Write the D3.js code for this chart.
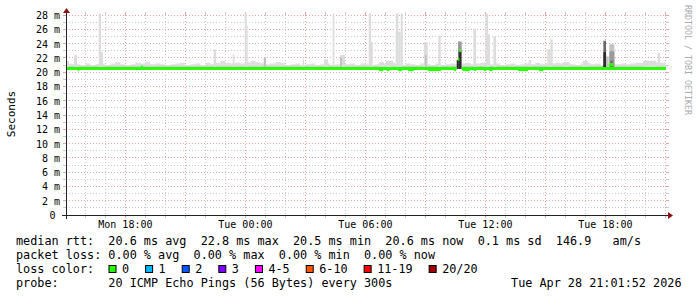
<!DOCTYPE html>
<html><head><meta charset="utf-8">
<script src="https://cdn.jsdelivr.net/npm/d3@7"></script>
<style>
body{margin:0;background:#fff;}
svg{display:block;}
text{font-family:"DejaVu Sans Mono",monospace;white-space:pre;}
</style></head><body>
<svg id="c" width="697" height="297"></svg>
<script>
// ---------------- data ----------------
const timeStart = "2026-04-27 15:01:52";
const timeEnd   = "2026-04-28 21:01:52";
const yMax = 28;
const yTickValues = [0,2,4,6,8,10,12,14,16,18,20,22,24,26,28];
const xLabelTimes = ["2026-04-27 18:00:00","2026-04-28 00:00:00","2026-04-28 06:00:00","2026-04-28 12:00:00","2026-04-28 18:00:00"];
const xLabelTexts = ["Mon 18:00","Tue 00:00","Tue 06:00","Tue 12:00","Tue 18:00"];

// low smoke band: top value (ms) per 15-minute bin, starting Mon 15:00
const bandStart = "2026-04-27 15:00:00";
const bandTop = [
21.2,21.1,21.1,21.0,21.2,21.0,21.1,21.1,21.0,21.2,21.4,21.1,21.0,21.1,21.3,21.2,21.4,21.1,21.2,21.1,
21.0,21.1,21.2,21.3,21.0,21.1,21.2,21.0,21.3,21.1,21.3,21.6,21.3,21.2,21.3,21.2,21.4,21.6,21.4,21.2,
21.1,21.2,21.4,21.3,21.0,21.1,21.2,21.0,21.1,21.2,21.0,21.1,21.2,21.0,21.1,21.2,21.1,21.2,21.0,21.2,
21.1,21.0,21.1,21.2,21.1,21.3,21.1,21.0,21.2,21.1,21.0,21.2,21.1,21.0,21.2,21.0,21.1,21.2,21.1,21.2,
21.3,21.1,21.2,21.3,21.2,21.1,21.2,21.0,21.1,21.2,21.0,21.1,21.2,21.1,21.3,21.1,21.2,21.2,21.3,21.2,
21.3,21.1,21.0,21.2,21.3,21.1,21.2,21.0,21.1,21.2,21.1,21.2,21.1,21.2,21.3,21.3,21.5,21.5,21.4,21.3];
const smokeBottom = 20.45;
const bandCoreTop = 20.85;

// smoke spikes: from, to, top (ms), ping density level (0 sparse .. 4 dense)
const spikeFrom = ["04-27 15:02","04-27 15:26","04-27 16:40","04-27 16:44","04-27 22:25","04-27 23:22","04-27 23:58","04-28 00:04","04-28 00:55","04-28 02:52","04-28 03:56","04-28 04:22","04-28 04:44","04-28 04:44","04-28 06:10","04-28 06:14","04-28 06:41","04-28 07:02","04-28 07:31","04-28 07:39","04-28 07:46","04-28 08:56","04-28 08:59","04-28 09:39","04-28 10:38","04-28 10:40","04-28 10:34","04-28 11:24","04-28 12:00","04-28 12:08","04-28 12:24","04-28 14:10","04-28 15:06","04-28 15:15","04-28 15:52","04-28 16:52","04-28 17:54","04-28 17:54","04-28 18:02","04-28 18:12","04-28 18:12","04-28 18:14","04-28 18:15","04-28 19:53","04-28 20:37"];
const spikeTo   = ["04-27 15:11","04-27 15:35","04-27 16:47","04-27 16:53","04-27 22:32","04-27 23:27","04-28 00:04","04-28 00:07","04-28 01:02","04-28 02:56","04-28 04:08","04-28 04:27","04-28 04:59","04-28 04:50","04-28 06:17","04-28 06:22","04-28 06:56","04-28 07:23","04-28 07:39","04-28 07:46","04-28 07:52","04-28 09:07","04-28 09:04","04-28 09:46","04-28 10:49","04-28 10:48","04-28 10:40","04-28 11:32","04-28 12:08","04-28 12:14","04-28 12:32","04-28 14:17","04-28 15:15","04-28 15:22","04-28 16:12","04-28 17:07","04-28 18:02","04-28 18:02","04-28 18:10","04-28 18:27","04-28 18:27","04-28 18:24","04-28 18:22","04-28 20:32","04-28 20:44"];
const spikeTop  = [21.6,22.4,28.2,22.8,23.2,22.5,28.4,26.5,22.0,21.8,21.8,28.2,22.4,22.0,28.2,24.2,21.4,21.6,28.2,25.7,28.2,24.2,22.4,25.1,24.3,22.9,21.7,26.1,28.2,25.3,25.0,21.7,23.2,24.6,21.4,21.6,24.4,22.8,22.2,23.9,22.9,22.2,21.6,21.6,22.7];
const spikeDensity = [0,0,0,0,0,0,0,0,1,0,0,0,0,1,0,0,0,0,0,0,0,0,1,0,2,4,4,0,0,0,0,0,0,0,0,0,3,4,1,1,2,2,3,0,0];

// median rtt: base value with exceptions
const medianBase = 20.5;
const medFrom  = ["04-27 15:37","04-27 18:47","04-28 06:41","04-28 07:04","04-28 07:38","04-28 08:08","04-28 09:08","04-28 10:26","04-28 10:37","04-28 10:42","04-28 10:52","04-28 11:26","04-28 11:56","04-28 12:11","04-28 13:38","04-28 14:41","04-28 18:11"];
const medTo    = ["04-27 15:41","04-27 18:53","04-28 06:53","04-28 07:12","04-28 07:50","04-28 08:26","04-28 09:47","04-28 10:32","04-28 10:42","04-28 10:47","04-28 11:14","04-28 11:32","04-28 12:02","04-28 12:22","04-28 14:08","04-28 14:53","04-28 18:23"];
const medValue = [20.35,20.7,20.35,20.35,20.35,20.35,20.35,20.35,21.8,23.0,20.35,20.35,20.35,20.35,20.35,20.35,21.05];
const medGapFrom = ["04-28 10:34"];
const medGapTo   = ["04-28 10:49"];

// legend figures
const rttStats = [20.6, 22.8, 20.5, 20.6];   // avg max min now (ms)
const rttSd = 0.1;
const rttAmps = 146.9;
const lossStats = [0.00, 0.00, 0.00, 0.00];  // avg max min now (%)
const lossLabels = ["0","1","2","3","4-5","6-10","11-19","20/20"];
const lossColors = ["#26ff00","#00b8ff","#0059ff","#7e00ff","#ff00ff","#ff5500","#ff0000","#a00000"];
const probeText = "20 ICMP Echo Pings (56 Bytes) every 300s";
const stampText = "Tue Apr 28 21:01:52 2026";

// ---------------- drawing ----------------
const pT = d3.timeParse("%Y-%m-%d %H:%M:%S");
const pM = s => d3.timeParse("%Y-%m-%d %H:%M")("2026-" + s);
const t0 = pT(timeStart), t1 = pT(timeEnd);

const svg = d3.select("#c");
const x = d3.scaleTime().domain([t0, t1]).range([66, 666]);
const y = d3.scaleLinear().domain([0, yMax]).range([215, 15]);
const px = v => Math.floor(v) + 0.5;

svg.append("rect").attr("width",697).attr("height",297).attr("fill","#fff");
svg.append("defs").append("clipPath").attr("id","pc")
  .append("rect").attr("x",66).attr("y",13).attr("width",600).attr("height",202);

// grid
const grid = svg.append("g");
const minorCol = "#c8c8c8", majorCol = "#e4a4a4";
d3.range(1, yMax + 1).forEach(v => {
  const yy = px(y(v));
  const col = v % 2 === 0 ? majorCol : minorCol;
  grid.append("line").attr("x1",66).attr("x2",666).attr("y1",yy).attr("y2",yy)
    .attr("stroke",col).attr("stroke-dasharray","1,2");
  grid.append("line").attr("x1",63).attr("x2",66).attr("y1",yy).attr("y2",yy).attr("stroke",col);
  grid.append("line").attr("x1",666).attr("x2",669).attr("y1",yy).attr("y2",yy).attr("stroke",col);
});
d3.timeHour.every(1).range(t0, t1).forEach(t => {
  const xx = px(x(t));
  const major = t.getHours() % 3 === 0;
  const col = major ? majorCol : minorCol;
  grid.append("line").attr("x1",xx).attr("x2",xx).attr("y1",15).attr("y2",215)
    .attr("stroke",col).attr("stroke-dasharray","1,2");
  grid.append("line").attr("x1",xx).attr("x2",xx).attr("y1",215).attr("y2",218).attr("stroke",col);
  grid.append("line").attr("x1",xx).attr("x2",xx).attr("y1",12).attr("y2",15).attr("stroke",col);
});

// smoke
const plot = svg.append("g").attr("clip-path","url(#pc)");
const b0 = pT(bandStart);
const bandPts = bandTop.map((v,i) => [d3.timeMinute.offset(b0, 15*i), v]);
bandPts.push([t1, bandTop[bandTop.length-1]]);
const area = d3.area().curve(d3.curveStepAfter)
  .x(d => x(d[0])).y0(y(smokeBottom));
plot.append("path").datum(bandPts).attr("fill","#dedede")
  .attr("d", area.y1(d => y(d[1])));
plot.append("path").datum(bandPts).attr("fill","#cdcdcd")
  .attr("d", area.y1(() => y(bandCoreTop)));
const shade = d3.scaleOrdinal().domain([0,1,2,3,4]).range(["#dcdcdc","#c2c2c2","#9a9a9a","#686868","#2c2c2c"]);
spikeFrom.forEach((f,i) => {
  const xa = x(pM(f)), xb = x(pM(spikeTo[i]));
  plot.append("rect").attr("x",xa).attr("width",Math.max(1,xb-xa))
    .attr("y",y(spikeTop[i])).attr("height",y(smokeBottom)-y(spikeTop[i]))
    .attr("fill",shade(spikeDensity[i]));
});

// median line
const green = lossColors[0];
let basePieces = [[t0]];
medGapFrom.forEach((g,i) => { basePieces[basePieces.length-1].push(pM(g)); basePieces.push([pM(medGapTo[i])]); });
basePieces[basePieces.length-1].push(t1);
basePieces.forEach(p => {
  plot.append("line").attr("x1",x(p[0])).attr("x2",x(p[1]))
    .attr("y1",y(medianBase)).attr("y2",y(medianBase))
    .attr("stroke",green).attr("stroke-width",3);
});
medFrom.forEach((f,i) => {
  plot.append("line").attr("x1",x(pM(f))).attr("x2",x(pM(medTo[i])))
    .attr("y1",y(medValue[i])).attr("y2",y(medValue[i]))
    .attr("stroke",green).attr("stroke-width",3);
});

// axes
const axisCol = "#222", arrowCol = "#8b1515";
svg.append("line").attr("x1",62).attr("x2",670).attr("y1",215.5).attr("y2",215.5).attr("stroke",axisCol);
svg.append("line").attr("x1",66.5).attr("x2",66.5).attr("y1",219).attr("y2",11).attr("stroke",axisCol);
svg.append("path").attr("d","M668,212L673,215.5L668,219Z").attr("fill",arrowCol);
svg.append("path").attr("d","M63,13L66.5,8L70,13Z").attr("fill",arrowCol);

// y tick labels
yTickValues.forEach(v => {
  svg.append("text").attr("x", v === 0 ? 55.5 : 60).attr("y", y(v) + 4)
    .attr("text-anchor","end").attr("font-size",10).attr("fill","#000")
    .text(v === 0 ? "0" : v + " m");
});
// x labels
xLabelTimes.forEach((s,i) => {
  svg.append("text").attr("x", x(pT(s))).attr("y", 228)
    .attr("text-anchor","middle").attr("font-size",10).attr("fill","#000")
    .text(xLabelTexts[i]);
});
// axis title
svg.append("text").attr("transform","translate(15,114) rotate(-90)")
  .attr("text-anchor","middle").attr("font-size",11).attr("fill","#000").text("Seconds");
svg.append("text").attr("transform","translate(685,5) rotate(90)")
  .attr("font-size",8.3).attr("fill","#aaaaaa").text("RRDTOOL / TOBI OETIKER");

// legend
const lf = 11.8;
const f1 = v => v.toFixed(1), f2 = v => v.toFixed(2);
const row1 = "median rtt:  " + f1(rttStats[0]) + " ms avg  " + f1(rttStats[1]) + " ms max  " +
  f1(rttStats[2]) + " ms min  " + f1(rttStats[3]) + " ms now  " + f1(rttSd) + " ms sd  " + f1(rttAmps) + "   am/s";
const row2 = "packet loss: " + f2(lossStats[0]) + " % avg  " + f2(lossStats[1]) + " % max  " +
  f2(lossStats[2]) + " % min  " + f2(lossStats[3]) + " % now";
const leg = svg.append("g").attr("font-size", lf).attr("fill","#000");
leg.append("text").attr("x",16).attr("y",245).text(row1);
leg.append("text").attr("x",16).attr("y",259).text(row2);
leg.append("text").attr("x",16).attr("y",273).text("loss color:");
leg.append("text").attr("x",16).attr("y",287).text("probe:       " + probeText);
leg.append("text").attr("x",681.5).attr("y",287).attr("text-anchor","end").text(stampText);
const W = lf * 0.602;
let bx = 108.5;
lossLabels.forEach((l,i) => {
  leg.append("rect").attr("x",bx+0.5).attr("y",265.5).attr("width",7).attr("height",7)
    .attr("fill",lossColors[i]).attr("stroke","#000");
  leg.append("text").attr("x",bx+13.5).attr("y",273).text(l);
  bx += l.length * W + 29.5;
});
</script>
</body></html>
